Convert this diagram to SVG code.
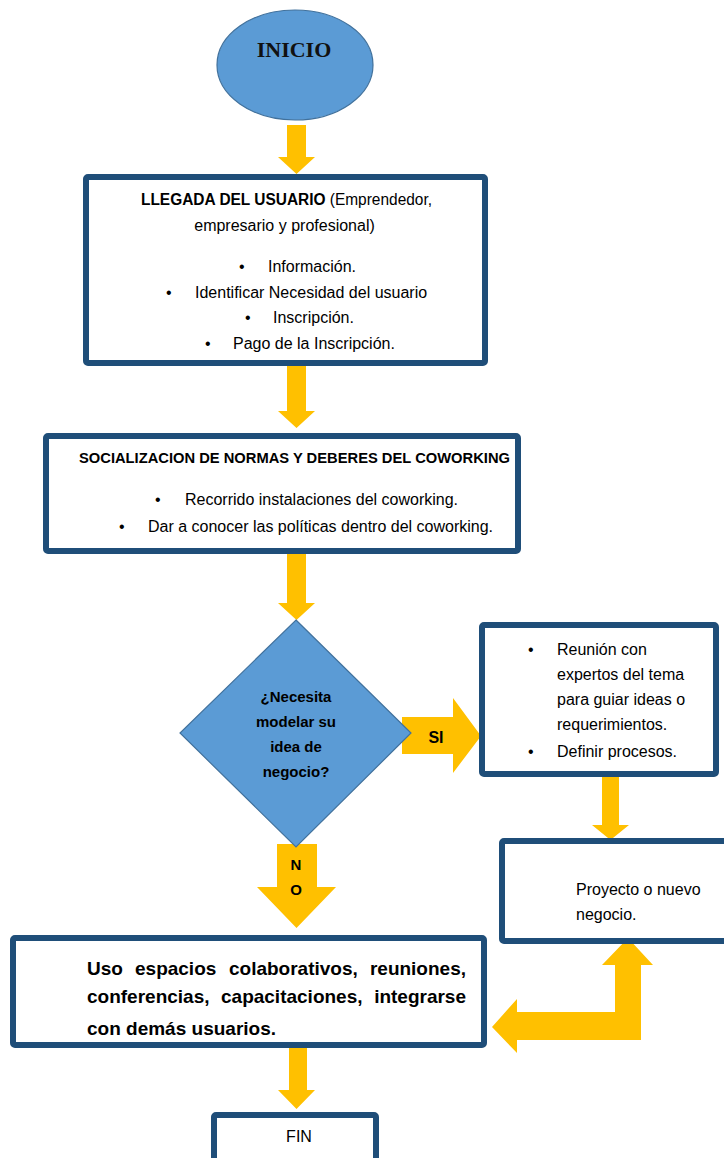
<svg xmlns="http://www.w3.org/2000/svg" width="724" height="1158" viewBox="0 0 724 1158">
<style>
.box{fill:#fff;stroke:#1F4E79;stroke-width:6}
.shape{fill:#5B9BD5;stroke:#41719C;stroke-width:1.2}
.arr{fill:#FFC000}
.t{font-family:"Liberation Sans",Arial,sans-serif;font-size:16px;fill:#000}
.b{font-weight:bold}
.c{text-anchor:middle}
.s15{font-size:15px}
.s145{font-size:14.5px}
.s19{font-size:19px}
</style>
<rect width="724" height="1158" fill="#fff"/>
<g id="connectors">
<polygon class="arr" points="287,125 306,125 306,157 315,157 296.5,174 278,157 287,157"/>
<polygon class="arr" points="287,366 306,366 306,411 315,411 296.5,428 278,411 287,411"/>
<polygon class="arr" points="287,554 306,554 306,603 315,603 296.5,620 278,603 287,603"/>
<polygon class="arr" points="402,717 453,717 453,698 481,736 453,773 453,754 402,754"/>
<polygon class="arr" points="277,844 317,844 317,887 336,887 296.5,928 257,887 277,887"/>
<polygon class="arr" points="602,777 619,777 619,825 629,825 610.5,840 592,825 602,825"/>
<polygon class="arr" points="628,938 653,965 641,965 641,1040 517,1040 517,1053 492,1027 517,999 517,1012 615,1012 615,965 602,965"/>
<polygon class="arr" points="289,1048 307,1048 307,1090 315,1090 296.5,1109 278,1090 289,1090"/>
<text class="t b c" x="436" y="743">SI</text>
<text class="t b c s15" x="296" y="870">N</text>
<text class="t b c s15" x="296" y="895">O</text>
</g>
<g id="inicio">
<ellipse class="shape" cx="295" cy="65" rx="78" ry="55"/>
<text x="294" y="57" text-anchor="middle" font-family="'Liberation Serif','Times New Roman',serif" font-weight="bold" font-size="22" fill="#111">INICIO</text>
</g>
<g id="llegada">
<rect class="box" x="86" y="177" width="399" height="186" rx="2"/>
<text class="t c" x="286.5" y="205" textLength="291" lengthAdjust="spacingAndGlyphs"><tspan class="b">LLEGADA DEL USUARIO</tspan> (Emprendedor,</text>
<text class="t c" x="284.5" y="231">empresario y profesional)</text>
<text class="t" y="272"><tspan x="239">•</tspan><tspan x="268">Información.</tspan></text>
<text class="t" y="298"><tspan x="166">•</tspan><tspan x="195">Identificar Necesidad del usuario</tspan></text>
<text class="t" y="323"><tspan x="245">•</tspan><tspan x="273">Inscripción.</tspan></text>
<text class="t" y="349"><tspan x="205">•</tspan><tspan x="233">Pago de la Inscripción.</tspan></text>
</g>
<g id="socializacion">
<rect class="box" x="46" y="436" width="472" height="115" rx="2"/>
<text class="t b c s145" x="294.5" y="463" textLength="431" lengthAdjust="spacingAndGlyphs">SOCIALIZACION DE NORMAS Y DEBERES DEL COWORKING</text>
<text class="t" y="505"><tspan x="155">•</tspan><tspan x="185">Recorrido instalaciones del coworking.</tspan></text>
<text class="t" y="532"><tspan x="119">•</tspan><tspan x="148">Dar a conocer las políticas dentro del coworking.</tspan></text>
</g>
<g id="decision">
<polygon class="shape" points="296,620 411,733 296,847 180,733"/>
<text class="t b c s15" x="296" y="702">¿Necesita</text>
<text class="t b c s15" x="296" y="727">modelar su</text>
<text class="t b c s15" x="296" y="752">idea de</text>
<text class="t b c s15" x="296" y="777">negocio?</text>
</g>
<g id="reunion">
<rect class="box" x="482" y="625" width="234" height="149" rx="2"/>
<text class="t" x="528" y="655">•</text>
<text class="t" x="557" y="655">Reunión con</text>
<text class="t" x="557" y="680">expertos del tema</text>
<text class="t" x="557" y="705">para guiar ideas o</text>
<text class="t" x="557" y="730">requerimientos.</text>
<text class="t" y="757"><tspan x="528">•</tspan><tspan x="557">Definir procesos.</tspan></text>
</g>
<g id="proyecto">
<rect class="box" x="502" y="841" width="240" height="100" rx="2"/>
<text class="t" x="576" y="895">Proyecto o nuevo</text>
<text class="t" x="576" y="920">negocio.</text>
</g>
<g id="uso">
<rect class="box" x="13" y="938" width="471" height="107" rx="2"/>
<text class="t b s19" y="975"><tspan x="87">Uso</tspan><tspan x="135">espacios</tspan><tspan x="229">colaborativos,</tspan><tspan x="466" text-anchor="end">reuniones,</tspan></text>
<text class="t b s19" y="1003"><tspan x="87">conferencias,</tspan><tspan x="221">capacitaciones,</tspan><tspan x="466" text-anchor="end">integrarse</tspan></text>
<text class="t b s19" x="87" y="1035">con demás usuarios.</text>
</g>
<g id="fin">
<rect class="box" x="214" y="1115" width="162" height="60" rx="2"/>
<text class="t c" x="299" y="1142">FIN</text>
</g>
</svg>
